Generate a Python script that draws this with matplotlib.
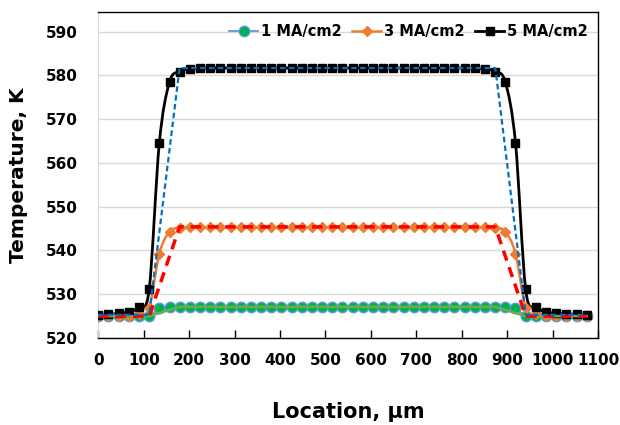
import matplotlib
matplotlib.use("Agg")
import matplotlib.pyplot as plt
import numpy as np
from matplotlib.path import Path
from matplotlib.patches import PathPatch
from matplotlib.lines import Line2D

plt.rcParams['font.family'] = ['DejaVu Sans']

# positions des noeuds (um)
location = [0, 22.4, 44.8, 67.2, 89.6, 112, 134.4, 156.8, 179.2, 201.6, 224,
            246.4, 268.8, 291.2, 313.6, 336, 358.4, 380.8, 403.2, 425.6, 448,
            470.4, 492.8, 515.2, 537.6, 560, 582.4, 604.8, 627.2, 649.6, 672,
            694.4, 716.8, 739.2, 761.6, 784, 806.4, 828.8, 851.2, 873.6, 896,
            918.4, 940.8, 963.2, 985.6, 1008, 1030.4, 1052.8, 1075.2]

temp_1 = [525.0, 525.0, 525.0, 525.0, 525.0, 525.0, 526.8, 527.0, 527.1, 527.1,
          527.1, 527.1, 527.1, 527.1, 527.1, 527.1, 527.1, 527.1, 527.1, 527.1,
          527.1, 527.1, 527.1, 527.1, 527.1, 527.1, 527.1, 527.1, 527.1, 527.1,
          527.1, 527.1, 527.1, 527.1, 527.1, 527.1, 527.1, 527.1, 527.1, 527.1,
          527.0, 526.8, 525.0, 525.0, 525.0, 525.0, 525.0, 525.0, 525.0]

temp_3 = [525.0, 525.0, 525.0, 525.0, 525.4, 526.8, 539.3, 544.3, 545.2, 545.3,
          545.3, 545.3, 545.3, 545.3, 545.3, 545.3, 545.3, 545.3, 545.3, 545.3,
          545.3, 545.3, 545.3, 545.3, 545.3, 545.3, 545.3, 545.3, 545.3, 545.3,
          545.3, 545.3, 545.3, 545.3, 545.3, 545.3, 545.3, 545.3, 545.3, 545.2,
          544.3, 539.3, 526.8, 525.4, 525.0, 525.0, 525.0, 525.0, 525.0]

temp_5 = [525.3, 525.4, 525.6, 526.0, 527.1, 531.1, 564.6, 578.5, 580.9, 581.5,
          581.6, 581.7, 581.7, 581.7, 581.7, 581.7, 581.7, 581.7, 581.7, 581.7,
          581.7, 581.7, 581.7, 581.7, 581.7, 581.7, 581.7, 581.7, 581.7, 581.7,
          581.7, 581.7, 581.7, 581.7, 581.7, 581.7, 581.7, 581.6, 581.5, 580.9,
          578.5, 564.6, 531.1, 527.1, 526.0, 525.6, 525.5, 525.4, 525.3]

# profils simplifies (sans legende)
ref_x = [0, 112, 179, 874, 941, 1075]
ref_1 = [525.0, 525.0, 527.1, 527.1, 525.0, 525.0]
ref_3 = [525.0, 525.0, 545.4, 545.4, 525.0, 525.0]
ref_5 = [525.3, 525.3, 581.7, 581.7, 525.3, 525.3]

labels = ['1 MA/cm2', '3 MA/cm2', '5 MA/cm2']


def smooth_path(x, y):
    # courbe lissee type Excel (Catmull-Rom -> Bezier)
    pts = np.column_stack([x, y]).astype(float)
    n = len(pts)
    verts = [pts[0]]
    codes = [Path.MOVETO]
    for i in range(n - 1):
        p0 = pts[max(i - 1, 0)]
        p1 = pts[i]
        p2 = pts[i + 1]
        p3 = pts[min(i + 2, n - 1)]
        verts += [p1 + (p2 - p0) / 6, p2 - (p3 - p1) / 6, p2]
        codes += [Path.CURVE4] * 3
    return Path(verts, codes)


fig = plt.figure(figsize=(6.2, 4.25), dpi=100)
ax = fig.add_axes([0.1585, 0.2047, 0.806, 0.767])

styles = [
    dict(color='#5B9BD5', lw=1.3, marker='o', mfc='#00B050', mec='#5B9BD5', ms=7.5, mew=1.0),
    dict(color='#ED7D31', lw=1.8, marker='D', mfc='#ED7D31', mec='#ED7D31', ms=5.5, mew=1.0),
    dict(color='black', lw=2.0, marker='s', mfc='black', mec='black', ms=5.5, mew=1.0),
]

handles = []
for y, st in zip([temp_1, temp_3, temp_5], styles):
    ax.add_patch(PathPatch(smooth_path(location, y), fill=False,
                           edgecolor=st['color'], lw=st['lw'], zorder=2))
    ax.plot(location, y, linestyle='none', marker=st['marker'], ms=st['ms'],
            mfc=st['mfc'], mec=st['mec'], mew=st['mew'], zorder=3)
    handles.append(Line2D([], [], color=st['color'], lw=st['lw'], marker=st['marker'],
                          ms=st['ms'], mfc=st['mfc'], mec=st['mec'], mew=st['mew']))

# lignes de reference
ax.plot(ref_x, ref_1, color='#70AD47', lw=1.8, zorder=4)
ax.plot(ref_x, ref_3, color='#FF0000', lw=2.5, dashes=(3, 2), zorder=4)
ax.plot(ref_x, ref_5, color='#0070C0', lw=1.6, dashes=(2.5, 1.5), zorder=4)

ax.set_xlim(0, 1100)
ax.set_ylim(520, 594.5)
ax.set_xticks(np.arange(0, 1101, 100))
ax.set_yticks(np.arange(520, 591, 10))
ax.yaxis.grid(True, color='#D9D9D9', lw=1.0)
ax.set_axisbelow(True)

ax.tick_params(axis='x', direction='in', length=6, width=1.0, pad=11, labelsize=11)
ax.tick_params(axis='y', length=0, pad=14.5, labelsize=11)
for lab in ax.get_xticklabels() + ax.get_yticklabels():
    lab.set_fontweight('bold')

ax.spines['left'].set_color('#D9D9D9')
for s in ['bottom', 'top', 'right']:
    ax.spines[s].set_color('black')
    ax.spines[s].set_linewidth(1.0)

ax.set_xlabel('Location, \u00b5m', fontsize=15, fontweight='bold', labelpad=24)
ax.set_ylabel('Temperature, K', fontsize=14.5, fontweight='bold', labelpad=13)

ax.legend(handles, labels, loc='upper right', ncol=3, frameon=False,
          prop={'weight': 'bold', 'size': 10.5}, handlelength=2.0,
          handletextpad=0.2, columnspacing=0.7, borderaxespad=0.3,
          bbox_to_anchor=(1.0, 0.995))

fig.savefig('out.png', dpi=100)
